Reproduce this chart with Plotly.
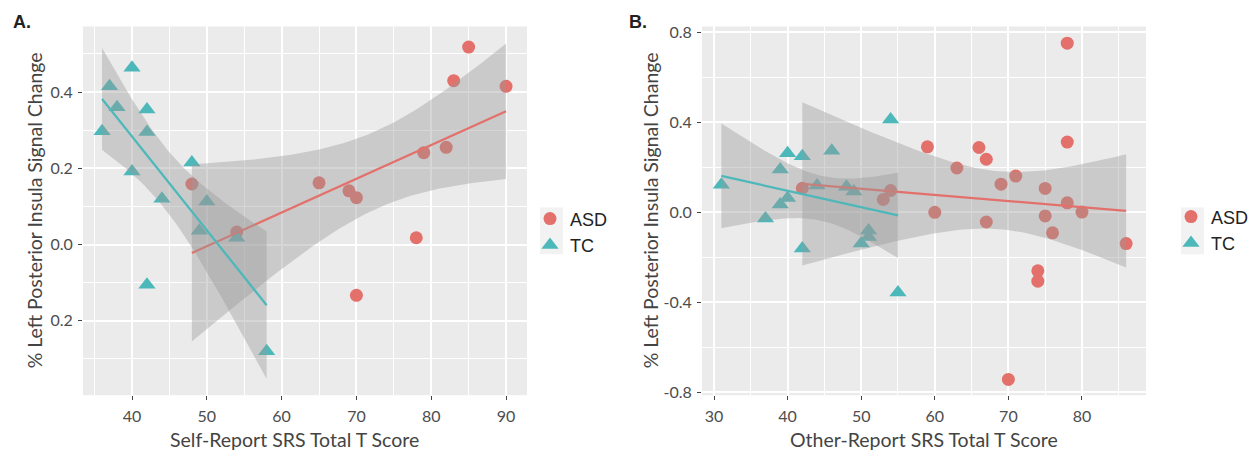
import numpy as np
import plotly.graph_objects as go

# ---------------- data ----------------
# Panel A: Self-Report SRS Total T Score
a_asd_x = [48, 54, 65, 69, 70, 78, 70, 79, 82, 83, 85, 90]
a_asd_y = [0.159, 0.033, 0.162, 0.141, 0.123, 0.018, -0.133, 0.241, 0.255, 0.430, 0.518, 0.415]
a_tc_x = [36, 37, 38, 40, 40, 42, 42, 44, 42, 48, 49, 50, 54, 58]
a_tc_y = [0.297, 0.415, 0.360, 0.464, 0.192, 0.354, 0.295, 0.120, -0.105, 0.215, 0.036, 0.113, 0.018, -0.280]

# Panel B: Other-Report SRS Total T Score
b_asd_x = [42, 53, 54, 59, 60, 63, 66, 67, 67, 69, 71, 75, 75, 78, 78, 78, 80, 76, 86, 74, 74, 70]
b_asd_y = [0.107, 0.057, 0.097, 0.291, 0.000, 0.197, 0.288, 0.236, -0.043, 0.125, 0.161, 0.106,
           -0.016, 0.752, 0.312, 0.042, 0.001, -0.091, -0.139, -0.260, -0.306, -0.743]
b_tc_x = [31, 37, 39, 40, 42, 39, 40, 44, 46, 48, 49, 54, 51, 51, 50, 42, 55]
b_tc_y = [0.122, -0.027, 0.190, 0.262, 0.249, 0.035, 0.064, 0.119, 0.274, 0.114, 0.093, 0.412,
          -0.081, -0.110, -0.139, -0.161, -0.357]

groups = ["ASD", "TC"]
a_yticks = [-0.2, 0.0, 0.2, 0.4]
a_yticktext = ["0.2", "0.0", "0.2", "0.4"]
b_yticks = [-0.8, -0.4, 0.0, 0.4, 0.8]
b_yticktext = ["-0.8", "-0.4", "0.0", "0.4", "0.8"]
a_xticks = [40, 50, 60, 70, 80, 90]
b_xticks = [30, 40, 50, 60, 70, 80]

COL = {"ASD": "#E3706A", "TC": "#4DB8BA"}
SYM = {"ASD": "circle", "TC": "triangle-up"}
SIZE = {"ASD": 13, "TC": 15}
BAND = "rgba(153,153,153,0.4)"


def t975(df):
    z = 1.959964
    return (z + (z**3 + z) / (4 * df) + (5 * z**5 + 16 * z**3 + 3 * z) / (96 * df**2)
            + (3 * z**7 + 19 * z**5 + 17 * z**3 - 15 * z) / (384 * df**3))


def lm_band(x, y):
    x = np.asarray(x, float)
    y = np.asarray(y, float)
    n = len(x)
    b, a = np.polyfit(x, y, 1)
    res = y - (a + b * x)
    s = np.sqrt(np.sum(res**2) / (n - 2))
    mx = x.mean()
    sxx = np.sum((x - mx) ** 2)
    g = np.linspace(x.min(), x.max(), 80)
    fit = a + b * g
    se = s * np.sqrt(1 / n + (g - mx) ** 2 / sxx)
    t = t975(n - 2)
    return g, fit, fit - t * se, fit + t * se


fig = go.Figure()

panels = [
    ("x", "y", "legend", {"ASD": (a_asd_x, a_asd_y), "TC": (a_tc_x, a_tc_y)}),
    ("x2", "y2", "legend2", {"ASD": (b_asd_x, b_asd_y), "TC": (b_tc_x, b_tc_y)}),
]

for xa, ya, leg, dat in panels:
    for gname in groups:
        gx, gy = dat[gname]
        fig.add_trace(go.Scatter(
            x=gx, y=gy, mode="markers", name=gname, xaxis=xa, yaxis=ya, legend=leg,
            marker=dict(color=COL[gname], symbol=SYM[gname], size=SIZE[gname], line=dict(width=0)),
            showlegend=True))
    for gname in groups:
        gx, gy = dat[gname]
        g, fit, lo, hi = lm_band(gx, gy)
        fig.add_trace(go.Scatter(
            x=np.concatenate([g, g[::-1]]), y=np.concatenate([hi, lo[::-1]]),
            fill="toself", fillcolor=BAND, line=dict(width=0), mode="lines",
            xaxis=xa, yaxis=ya, showlegend=False, hoverinfo="skip"))
        fig.add_trace(go.Scatter(
            x=g, y=fit, mode="lines", line=dict(color=COL[gname], width=2.2),
            xaxis=xa, yaxis=ya, showlegend=False, hoverinfo="skip"))

W, H = 1260, 455


def px(xp):
    return xp / W


def py(yp):
    return 1 - yp / H


tickfont = dict(family="Lato, Open Sans, sans-serif", size=16, color="#4D4D4D")
axis_common = dict(
    showgrid=True, gridcolor="white", gridwidth=1.6, zeroline=False,
    ticks="outside", ticklen=4, tickwidth=1, tickcolor="#444", tickfont=tickfont,
    showline=False, mirror=False,
)


def minor(dt, t0):
    return dict(showgrid=True, gridcolor="white", gridwidth=0.7, dtick=dt, tick0=t0, ticks="")


fig.update_layout(
    width=W, height=H, margin=dict(l=0, r=0, t=0, b=0),
    paper_bgcolor="white", plot_bgcolor="#EBEBEB",
    showlegend=True,
    xaxis=dict(domain=[px(83), px(527)], range=[33.45, 92.8], tickvals=a_xticks,
               minor=minor(5, 35), ticklabelstandoff=3, anchor="y", **axis_common),
    yaxis=dict(domain=[py(400), py(23)], range=[-0.395, 0.572], tickvals=a_yticks, ticktext=a_yticktext,
               minor=minor(0.1, -0.3), ticklabelstandoff=2, anchor="x", **axis_common),
    xaxis2=dict(domain=[px(702), px(1146)], range=[28.37, 88.7], tickvals=b_xticks,
                minor=minor(5, 35), ticklabelstandoff=3, anchor="y2", **axis_common),
    yaxis2=dict(domain=[py(400), py(23)], range=[-0.813, 0.826], tickvals=b_yticks, ticktext=b_yticktext,
                minor=minor(0.2, -0.6), ticklabelstandoff=2, anchor="x2", **axis_common),
    legend=dict(x=px(530), y=py(233), xanchor="left", yanchor="middle", bgcolor="rgba(0,0,0,0)",
                font=dict(family="Liberation Sans, Arial, sans-serif", size=18, color="#222"),
                itemwidth=30, tracegroupgap=0),
    legend2=dict(x=px(1171), y=py(231), xanchor="left", yanchor="middle", bgcolor="rgba(0,0,0,0)",
                 font=dict(family="Liberation Sans, Arial, sans-serif", size=18, color="#222"),
                 itemwidth=30, tracegroupgap=0),
)

# legend key backgrounds (ggplot style)
for x0 in (540, 1181):
    fig.add_shape(type="rect", xref="paper", yref="paper",
                  x0=px(x0), x1=px(x0 + 23), y0=py(256), y1=py(208),
                  fillcolor="#F2F2F2", line=dict(width=0), layer="below")

titlefont = dict(family="Lato, Open Sans, sans-serif", size=19.5, color="#444")
ann = [
    dict(text="Self-Report SRS Total T Score", x=px(294), y=py(445)),
    dict(text="Other-Report SRS Total T Score", x=px(924), y=py(445)),
    dict(text="% Left Posterior Insula Signal Change", x=px(34), y=py(211), textangle=-90),
    dict(text="% Left Posterior Insula Signal Change", x=px(650), y=py(211), textangle=-90),
]
for a in ann:
    fig.add_annotation(xref="paper", yref="paper", showarrow=False, xanchor="center", yanchor="middle",
                       font=titlefont, borderpad=0, **a)

for lbl, xp in (("A.", 22), ("B.", 638)):
    fig.add_annotation(text="<b>%s</b>" % lbl, xref="paper", yref="paper", x=px(xp), y=py(18),
                       showarrow=False, xanchor="center", yanchor="middle",
                       font=dict(family="Liberation Sans, Arial, sans-serif", size=18, color="#222"))

fig.write_html("out.html")
